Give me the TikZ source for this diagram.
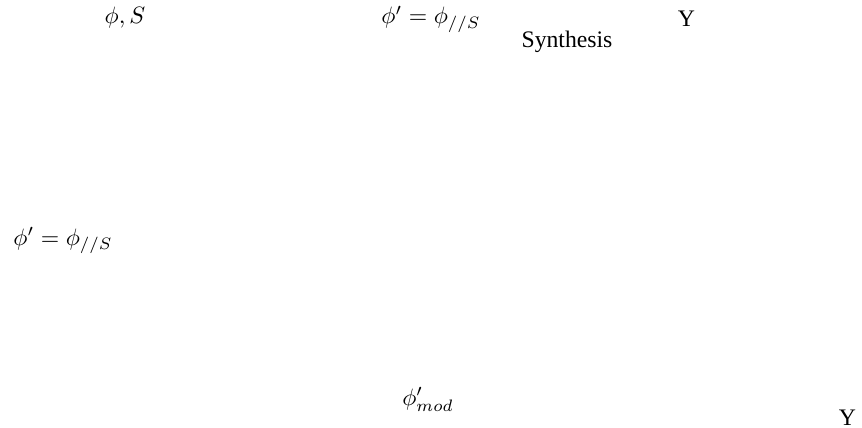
\documentclass[tikz,border=0pt]{standalone}
\usepackage{fontspec}
\setmainfont{Liberation Serif}
\usepackage{amsmath, amssymb}
\usetikzlibrary{positioning}
\tikzset{
  lbl/.style={
    inner sep=0pt, anchor=base,
    font=\normalsize
  },
  mathlbl/.style={
    inner sep=0pt, anchor=base,
    font=\normalsize
  }
}

\begin{document}
\begin{tikzpicture}[x=0.422pt, y=-0.422pt]

\useasboundingbox (0,0) rectangle (862,427);

% ── Top row ──────────────────────────────────────────────────────────
\node[mathlbl] (inputlbl) at (125,24) {$\phi, S$};
\node[mathlbl] (projlbl) at (431,24) {$\phi' = \phi_{//S}$};
\node[lbl] (synthlbl) at (567,48) {Synthesis};
\node[lbl] (outlbl) at (686.5,26) {Y};

% ── Left / bottom ────────────────────────────────────────────────────
\node[mathlbl] (projlbl2) at (63,245) {$\phi' = \phi_{//S}$};
\node[mathlbl] (modlbl) at (428,405) {$\phi'_{mod}$};
\node[lbl] (outlbl2) at (847.5,425) {Y};

\end{tikzpicture}
\end{document}
